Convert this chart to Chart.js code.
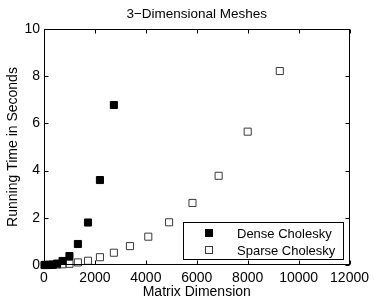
<!DOCTYPE html>
<html>
<head>
<meta charset="utf-8">
<script src="https://cdn.jsdelivr.net/npm/chart.js@4"></script>
<style>
  html, body { margin: 0; padding: 0; background: #fff; }
  #wrap { width: 374px; height: 303px; }
</style>
</head>
<body>
<div id="wrap"><canvas id="chart" width="374" height="303"></canvas></div>
<script>
const chartTitle = '3\u2212Dimensional Meshes';
const xTitle = 'Matrix Dimension';
const yTitle = 'Running Time in Seconds';
const xTicks = [0, 2000, 4000, 6000, 8000, 10000, 12000];
const yTicks = [0, 2, 4, 6, 8, 10];

const denseLabel = 'Dense Cholesky';
const denseN = [27, 64, 125, 216, 343, 512, 729, 1000, 1331, 1728, 2197, 2744];
const denseTime = [0.0, 0.0, 0.001, 0.004, 0.015, 0.06, 0.17, 0.38, 0.89, 1.8, 3.6, 6.78];

const sparseLabel = 'Sparse Cholesky';
const sparseN = [27, 64, 125, 216, 343, 512, 729, 1000, 1331, 1728, 2197, 2744, 3375, 4096, 4913, 5832, 6859, 8000, 9261];
const sparseTime = [0.0, 0.0, 0.0, 0.005, 0.01, 0.02, 0.03, 0.05, 0.11, 0.18, 0.33, 0.52, 0.8, 1.2, 1.81, 2.63, 3.78, 5.65, 8.22];

const FONT = '"Liberation Sans", Arial, Helvetica, sans-serif';

const toPoints = (xs, ys) => xs.map((x, i) => ({ x, y: ys[i] }));

// matlab-style box, inward ticks, title and in-plot legend
const matlabFrame = {
  id: 'matlabFrame',
  afterDraw(chart) {
    const { ctx, chartArea: a, scales } = chart;
    const L = Math.round(a.left) + 0.5, R = Math.round(a.right) - 0.5;
    const T = Math.round(a.top) + 0.5, B = Math.round(a.bottom) - 0.5;
    ctx.save();
    ctx.strokeStyle = '#000';
    ctx.lineWidth = 1;
    ctx.strokeRect(L, T, R - L, B - T);

    const tl = 4;
    ctx.beginPath();
    xTicks.forEach(v => {
      const px = Math.round(scales.x.getPixelForValue(v)) + 0.5;
      ctx.moveTo(px, B); ctx.lineTo(px, B - tl);
      ctx.moveTo(px, T); ctx.lineTo(px, T + tl);
    });
    yTicks.forEach(v => {
      const py = Math.round(scales.y.getPixelForValue(v)) + 0.5;
      ctx.moveTo(L, py); ctx.lineTo(L + tl, py);
      ctx.moveTo(R, py); ctx.lineTo(R - tl, py);
    });
    ctx.stroke();

    // title centred over the plot
    ctx.fillStyle = '#000';
    ctx.font = '13.5px ' + FONT;
    ctx.textAlign = 'center';
    ctx.textBaseline = 'middle';
    ctx.fillText(chartTitle, (a.left + a.right) / 2, 14);

    // legend box in the lower right corner
    ctx.font = '13px ' + FONT;
    const bx = 183.5, by = 222.5, bw = 160, bh = 37;
    ctx.fillStyle = '#fff';
    ctx.fillRect(bx, by, bw, bh);
    ctx.strokeRect(bx, by, bw, bh);
    ctx.textAlign = 'left';
    chart.data.datasets.forEach((ds, i) => {
      const cy = 233 + i * 17;
      const s = 7;
      ctx.fillStyle = ds.backgroundColor;
      ctx.strokeStyle = ds.borderColor;
      ctx.fillRect(209 - s / 2, cy - s / 2, s, s);
      ctx.strokeRect(209 - s / 2, cy - s / 2, s, s);
      ctx.fillStyle = '#000';
      ctx.fillText(ds.label, 237, cy + 1);
    });
    ctx.restore();
  }
};

new Chart(document.getElementById('chart'), {
  type: 'scatter',
  data: {
    datasets: [
      {
        label: denseLabel,
        data: toPoints(denseN, denseTime),
        pointStyle: 'rect',
        pointRadius: 5,
        backgroundColor: '#000',
        borderColor: '#000',
        borderWidth: 1,
        clip: false
      },
      {
        label: sparseLabel,
        data: toPoints(sparseN, sparseTime),
        pointStyle: 'rect',
        pointRadius: 5,
        backgroundColor: 'rgba(255,255,255,0)',
        borderColor: '#3a3a3a',
        borderWidth: 1,
        clip: false
      }
    ]
  },
  options: {
    responsive: false,
    animation: false,
    layout: { padding: { top: 29, right: 24, left: 0, bottom: 0 } },
    plugins: {
      legend: { display: false },
      title: { display: false },
      tooltip: { enabled: false }
    },
    scales: {
      x: {
        type: 'linear',
        min: 0,
        max: 12000,
        afterFit: s => { s.height = 38; },
        afterBuildTicks: s => { s.ticks = xTicks.map(v => ({ value: v })); },
        ticks: { color: '#000', font: { family: FONT, size: 14 }, padding: 5, maxRotation: 0, callback: v => String(v) },
        grid: { display: false, drawTicks: false },
        border: { display: false },
        title: { display: true, text: xTitle, color: '#000', font: { family: FONT, size: 14 }, padding: { top: 0, bottom: 2 } }
      },
      y: {
        type: 'linear',
        min: 0,
        max: 10,
        afterFit: s => { s.width = 44; },
        afterBuildTicks: s => { s.ticks = yTicks.map(v => ({ value: v })); },
        ticks: { color: '#000', font: { family: FONT, size: 14 }, padding: 4, callback: v => String(v) },
        grid: { display: false, drawTicks: false },
        border: { display: false },
        title: { display: true, text: yTitle, color: '#000', font: { family: FONT, size: 14 }, padding: { top: 5, bottom: 0 } }
      }
    }
  },
  plugins: [matlabFrame]
});
</script>
</body>
</html>
